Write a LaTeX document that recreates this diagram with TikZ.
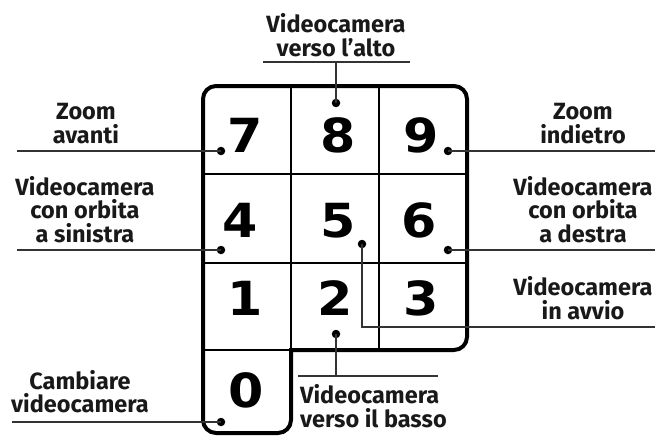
\documentclass[tikz,border=0pt]{standalone}
\usepackage{fontspec}
\newfontfamily\lblfont{Fira Sans}
\newfontfamily\digfont[FakeStretch=1.08]{DejaVu Sans}
\begin{document}
\begin{tikzpicture}[x=1pt,y=-1pt,
  lbl/.style={inner sep=0pt,align=center,font=\lblfont\bfseries\fontsize{23.5}{23.5}\selectfont,text=black!90},
  digit/.style={inner sep=0pt,anchor=base,font=\digfont\bfseries\fontsize{47}{47}\selectfont},
  dot/.style={circle,fill=black,inner sep=0pt,minimum size=8.5pt},
  conn/.style={line width=1.2pt,draw=black!80},
  outer/.style={line width=4pt,line cap=rect,line join=round},
  inner/.style={line width=2.2pt}]
\useasboundingbox (0,0) rectangle (655,436);
% keypad frame
\draw[outer,rounded corners=13] (291,350) -- (467,350) -- (467,86) -- (203,86) -- (203,433) -- (291,433) -- (291,350);
\draw[inner] (291,86) -- (291,350);
\draw[inner] (379,86) -- (379,350);
\draw[inner] (203,174) -- (467,174);
\draw[inner] (203,263) -- (467,263);
\draw[inner] (203,350) -- (291,350);
% digits
\node[digit] (k7) at (245,152) {7};
\node[digit] (k8) at (338,152) {8};
\node[digit] (k9) at (421,152) {9};
\node[digit] (k4) at (240,237) {4};
\node[digit] (k5) at (338,237) {5};
\node[digit] (k6) at (419,237) {6};
\node[digit] (k1) at (245,315) {1};
\node[digit] (k2) at (335,315) {2};
\node[digit] (k3) at (421,315) {3};
\node[digit] (k0) at (246,407) {0};
% dots
\node[dot] (d7) at (221,151) {};
\node[dot] (d4) at (221,250) {};
\node[dot] (d9) at (448,151) {};
\node[dot] (d6) at (448,250) {};
\node[dot] (d5) at (362,244) {};
\node[dot] (d8) at (336,103) {};
\node[dot] (d2) at (336,334) {};
\node[dot] (d0) at (221,422) {};
% line ends
\coordinate (e7) at (17,151);
\coordinate (e4) at (17,250);
\coordinate (e0) at (12,422);
\coordinate (e9) at (655,151);
\coordinate (e6) at (655,250);
\coordinate (e5) at (655,327);
\coordinate (t8a) at (263,62);
\coordinate (t8b) at (410,62);
\coordinate (b2a) at (298,376);
\coordinate (b2b) at (438,376);
% labels
\node[lbl,anchor=south] (lt) at (336,57) {Videocamera\\verso l’alto};
\node[lbl,anchor=south] (l7) at (86,144) {Zoom\\avanti};
\node[lbl,anchor=south] (l4) at (85,243) {Videocamera\\con orbita\\a sinistra};
\node[lbl,anchor=south,font=\lblfont\bfseries\fontsize{23.5}{22.5}\selectfont] (l0) at (80,413) {Cambiare\\videocamera};
\node[lbl,anchor=south] (l9) at (583,144) {Zoom\\indietro};
\node[lbl,anchor=south] (l6) at (583,243) {Videocamera\\con orbita\\a destra};
\node[lbl,anchor=south] (l5) at (583,320) {Videocamera\\in avvio};
\node[lbl,anchor=south west,align=left] (l2) at (300,428) {Videocamera\\verso il basso};
% connectors
\draw[conn] (d7.center) -- (e7);
\draw[conn] (d4.center) -- (e4);
\draw[conn] (d0.center) -- (e0);
\draw[conn] (d9.center) -- (e9);
\draw[conn] (d6.center) -- (e6);
\draw[conn] (d5.center) |- (e5);
\draw[conn] (t8a) -- (t8b);
\draw[conn] (d8.center) -- (d8.center |- t8a);
\draw[conn] (b2a) -- (b2b);
\draw[conn] (d2.center) -- (d2.center |- b2a);
\end{tikzpicture}
\end{document}
